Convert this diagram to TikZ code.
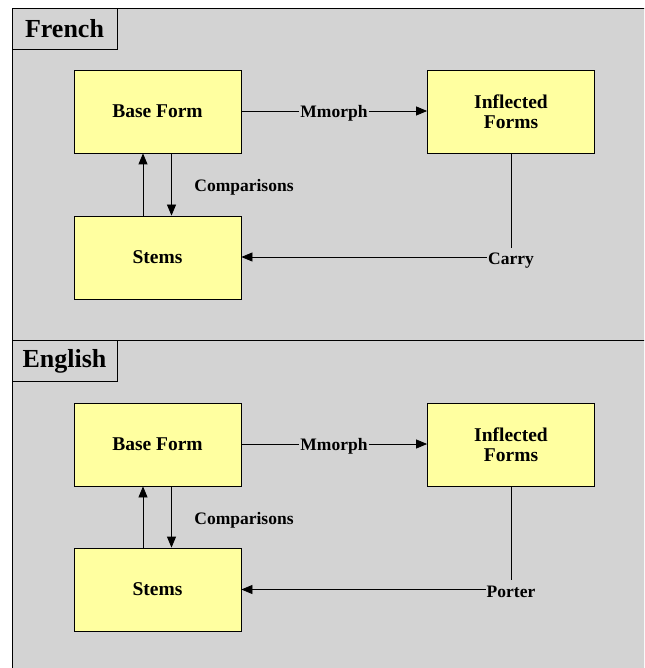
\documentclass[tikz,border=0pt]{standalone}
\usepackage{fontspec}
\setmainfont{Liberation Serif}
\usetikzlibrary{arrows.meta}
\definecolor{clusterbg}{RGB}{211,211,211}
\definecolor{boxfill}{RGB}{255,255,160}
\tikzset{
  cluster/.style={draw=black, fill=clusterbg, line width=0.8pt},
  clabel/.style={draw=black, line width=0.8pt, fill=clusterbg, minimum width=105pt, minimum height=41pt, inner sep=0pt, font=\fontsize{26}{28}\selectfont\bfseries},
  box/.style={draw=black, fill=boxfill, line width=0.8pt, minimum width=167pt, minimum height=83pt, inner sep=0pt, align=center, font=\fontsize{19.5}{20.5}\selectfont\bfseries},
  elabel/.style={inner sep=1pt, font=\fontsize{17.5}{19}\selectfont\bfseries},
  conn/.style={draw=black, line width=0.8pt},
  arr/.style={conn, -{Triangle[length=11pt,width=9pt]}}
}
\begin{document}
\begin{tikzpicture}[x=1pt,y=-1pt]
\useasboundingbox (0,0) rectangle (644,668);
\clip (0,0) rectangle (644,668);
\fill[white] (0,0) rectangle (644,668);
% clusters
\fill[clusterbg] (12,8) rectangle (700,700);
\draw[line width=0.8pt] (700,8) -- (12,8) -- (12,700);
\draw[line width=0.8pt] (12,340) -- (700,340);
\node[clabel] (fr) at (64.5,28.5) {French};
\node[clabel] (en) at (64.5,361) {English};
% French
\node[box] (fbase) at (157.5,111.5) {Base Form};
\node[box] (finf) at (511,111.5) {Inflected\\Forms};
\node[box] (fstems) at (157.5,257.5) {Stems};
\node[elabel] (fmm) at (334,113) {Mmorph};
\node[elabel] (fcmp) at (244,187) {Comparisons};
\node[elabel] (fcar) at (511,261) {Carry};
\draw[conn] (fbase.east |- 0,111) -- (fmm.west |- 0,111);
\draw[arr] (fmm.east |- 0,111) -- (finf.west |- 0,111);
\draw[arr] ([xshift=14pt]fbase.south) -- ([xshift=14pt]fstems.north);
\draw[arr] ([xshift=-14.5pt]fstems.north) -- ([xshift=-14.5pt]fbase.south);
\draw[conn] (finf.south) -- (finf.south |- 0,248);
\draw[arr] (fcar.west |- 0,257) -- (fstems.east |- 0,257);
% English
\node[box] (ebase) at (157.5,444.5) {Base Form};
\node[box] (einf) at (511,444.5) {Inflected\\Forms};
\node[box] (estems) at (157.5,589.5) {Stems};
\node[elabel] (emm) at (334,446) {Mmorph};
\node[elabel] (ecmp) at (244,520) {Comparisons};
\node[elabel] (epor) at (511,592) {Porter};
\draw[conn] (ebase.east |- 0,444) -- (emm.west |- 0,444);
\draw[arr] (emm.east |- 0,444) -- (einf.west |- 0,444);
\draw[arr] ([xshift=14pt]ebase.south) -- ([xshift=14pt]estems.north);
\draw[arr] ([xshift=-14.5pt]estems.north) -- ([xshift=-14.5pt]ebase.south);
\draw[conn] (einf.south) -- (einf.south |- 0,580);
\draw[arr] (epor.west |- 0,589.5) -- (estems.east |- 0,589.5);
\end{tikzpicture}
\end{document}
